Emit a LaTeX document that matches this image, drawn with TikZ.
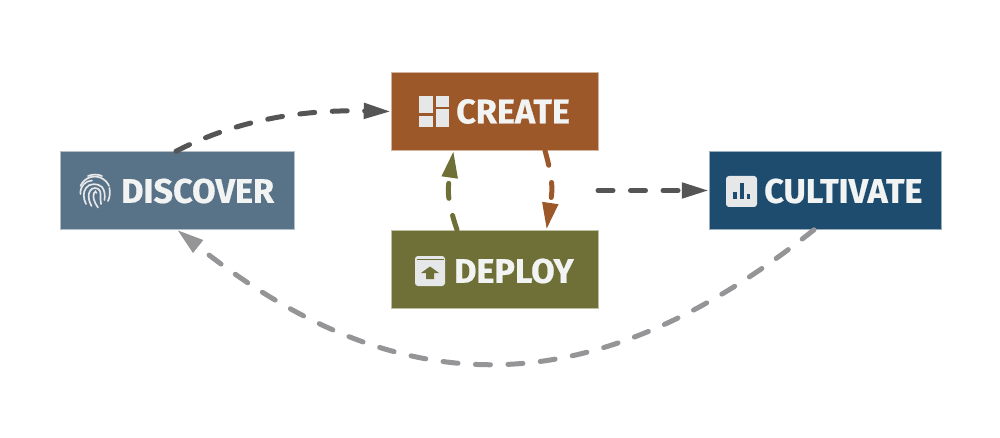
\documentclass[tikz,border=0pt]{standalone}
\usepackage{fontspec}
\setmainfont{Fira Sans}[BoldFeatures={FakeBold=0.6}]
\usetikzlibrary{arrows.meta,calc}
\definecolor{cDisc}{HTML}{587288}
\definecolor{cCrea}{HTML}{9C5829}
\definecolor{cDepl}{HTML}{6F7037}
\definecolor{cCult}{HTML}{1E4C6F}
\definecolor{cTxt}{HTML}{F2F3F3}
\definecolor{cIcon}{HTML}{E6E7E8}
\definecolor{cDark}{HTML}{555555}
\definecolor{cGrey}{HTML}{959598}
\tikzset{
  stagebox/.style={draw=white!55!#1,line width=0.5pt,fill=#1,minimum height=78pt,inner sep=0pt},
  stagelabel/.style={anchor=west,inner sep=0pt,text=cTxt,font=\fontsize{34.2}{34.2}\selectfont\bfseries},
  flow/.style={line width=5pt,line cap=round,draw=#1,dash pattern=on 15pt off 17.5pt,
    -{Triangle[length=27pt,width=15pt,fill=#1,line cap=butt]}},
  finger/.style={line width=1.7pt,draw=cIcon,line cap=round}
}
\begin{document}
\begin{tikzpicture}[x=1pt,y=-1pt]
\useasboundingbox (0,0) rectangle (1000,438);
\fill[white] (0,0) rectangle (1000,438);

\node[stagebox=cDisc,minimum width=234pt] (discover) at (177,190.5) {};
\node[stagebox=cCrea,minimum width=207pt] (create) at (494.5,111.5) {};
\node[stagebox=cDepl,minimum width=207pt] (deploy) at (494.5,269) {};
\node[stagebox=cCult,minimum width=232pt] (cultivate) at (825,190.5) {};
\coordinate (gap) at (598,190.5);

\node[stagelabel] (tdisc) at (121,191) {DISCOVER};
\node[stagelabel] (tcrea) at (456,111.5) {CREATE};
\node[stagelabel] (tdepl) at (454,271) {DEPLOY};
\node[stagelabel] (tcult) at (764,191) {CULTIVATE};

% connectors
\draw[flow=cDark] ($(discover.north)+(-1,0)$) .. controls +(60,-31) and +(-90,-2) .. (create.west);
\draw[flow=cCrea] ($(create.south)+(50.5,0)$) .. controls +(10,35) and +(5,-35) .. ($(deploy.north)+(52,0)$);
\draw[flow=cDepl] ($(deploy.north)+(-37.5,0)$) .. controls +(-12,-35) and +(-5,35) .. ($(create.south)+(-41,0)$);
\draw[flow=cDark] (gap) -- (cultivate.west);
\draw[flow=cGrey] ($(cultivate.south)+(-11,0)$) .. controls (592,407) and (400,407) .. (discover.south);

% create icon
\fill[cIcon] (419,96) rectangle (433,113);
\fill[cIcon] (419,116) rectangle (433,127);
\fill[cIcon] (436,96) rectangle (449,107);
\fill[cIcon] (436,109) rectangle (449,127);

% deploy icon
\fill[cIcon,rounded corners=3pt] (415,256) rectangle (445,286);
\draw[cDepl,line width=0.7pt] (416.5,259.5) -- (443.5,259.5);
\fill[cDepl] (430,266.5) -- (439,273) -- (434,273) -- (434,279) -- (426,279) -- (426,273) -- (421,273) -- cycle;

% cultivate icon
\fill[cIcon,rounded corners=3pt] (726,176) rectangle (757,207);
\fill[cCult] (733,192) rectangle (737,199);
\fill[cCult] (740,183) rectangle (744,199);
\fill[cCult] (747,194) rectangle (750,199);

% discover fingerprint icon
\begin{scope}[shift={(95,192)}]
\draw[finger] (-7,-16) arc (-113:-67:18);
\draw[finger] (-14.5,-6) arc (-157:-23:15.5);
\draw[finger] (-14.5,2) .. controls (-15,-6) and (-10,-11) .. (-3,-11.5);
\draw[finger] (-9,12) .. controls (-12,6) and (-12,0) .. (-9,-4) .. controls (-6,-9) and (3,-9) .. (7,-5) .. controls (10,-1) and (10,3) .. (9.5,8);
\draw[finger] (-3.5,14) .. controls (-7,8) and (-7,2) .. (-5,-1) .. controls (-3,-5) and (3,-5) .. (5,-1) .. controls (6,2) and (5,6) .. (6,12);
\draw[finger] (3,15.5) .. controls (-1,10) and (-2.5,5) .. (-1,1) .. controls (0,-1) and (1,-1) .. (1.5,1);
\draw[finger] (14.5,-4) .. controls (15,1) and (15,5) .. (13,9);
\end{scope}
\end{tikzpicture}
\end{document}
